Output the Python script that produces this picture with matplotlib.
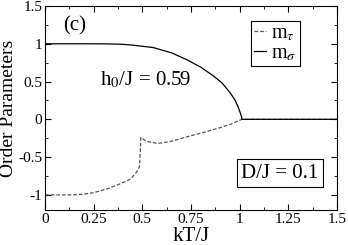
import numpy as np
import matplotlib
matplotlib.use("Agg")
import matplotlib.pyplot as plt
from matplotlib.ticker import MultipleLocator, FuncFormatter

plt.rcParams['font.family'] = ['Liberation Serif', 'DejaVu Serif']
plt.rcParams['mathtext.fontset'] = 'stix'

# m_sigma (solid)
T_sigma = [0, 0.1, 0.2, 0.3, 0.385, 0.45, 0.556, 0.65, 0.728, 0.8, 0.865,
           0.91, 0.95, 0.975, 0.993, 1.005, 1.01, 1.012, 1.5]
m_sigma = [1, 1, 1, 0.999, 0.995, 0.982, 0.95, 0.88, 0.79, 0.69, 0.575,
           0.48, 0.355, 0.26, 0.16, 0.07, 0.03, 0, 0]

# m_tau (dashed)
T_tau = [0, 0.14, 0.2, 0.25, 0.32, 0.38, 0.44, 0.47, 0.485, 0.49, 0.492,
         0.52, 0.58, 0.65, 0.745, 0.82, 0.9, 0.96, 1.01, 1.5]
m_tau = [-1, -1, -0.99, -0.97, -0.92, -0.86, -0.79, -0.70, -0.63, -0.4, -0.24,
         -0.29, -0.32, -0.29, -0.22, -0.17, -0.11, -0.06, 0, 0]

fig = plt.figure(figsize=(3.48, 2.45), dpi=100)
ax = fig.add_axes([45/348, 35/245, 292/348, 204/245])

ax.plot(T_tau, m_tau, ls=(0, (3, 1.5)), color='#555555', lw=0.9, label=r'm$_\tau$')
ax.plot(T_sigma, m_sigma, color='black', lw=0.9, label=r'm$_\sigma$')

ax.set_xlim(0, 1.5)
ax.set_ylim(-1.2, 1.5)
ax.xaxis.set_major_locator(MultipleLocator(0.25))
ax.xaxis.set_minor_locator(MultipleLocator(0.125))
ax.yaxis.set_major_locator(MultipleLocator(0.5))
ax.yaxis.set_minor_locator(MultipleLocator(0.25))
fmt = FuncFormatter(lambda v, p: '%g' % v)
ax.xaxis.set_major_formatter(fmt)
ax.yaxis.set_major_formatter(fmt)
ax.tick_params(which='both', direction='in', top=True, right=True, labelsize=11, pad=2)
ax.tick_params(which='major', length=4)
ax.tick_params(which='minor', length=2)

ax.set_xlabel('kT/J', fontsize=15, labelpad=1)
ax.set_ylabel('Order Parameters', fontsize=14, labelpad=1)

leg = ax.legend(loc='upper right', bbox_to_anchor=(0.873, 0.926), fontsize=14.5,
                handlelength=0.62, handletextpad=0.26, borderpad=0.15,
                labelspacing=0.05, fancybox=False, framealpha=1, borderaxespad=0)
leg.get_frame().set_edgecolor('black')
leg.get_frame().set_linewidth(0.8)

ax.text(0.103, 0.905, '(c)', transform=ax.transAxes, fontsize=15,
        ha='center', va='center')
ax.text(0.344, 0.637, r'h$_0$/J = 0.59', transform=ax.transAxes, fontsize=15,
        ha='center', va='center')
ax.text(0.805, 0.18, 'D/J = 0.1', transform=ax.transAxes, fontsize=15,
        ha='center', va='center',
        bbox=dict(boxstyle='square,pad=0.22', fc='white', ec='black', lw=0.8))

fig.savefig('out.png', dpi=100)
